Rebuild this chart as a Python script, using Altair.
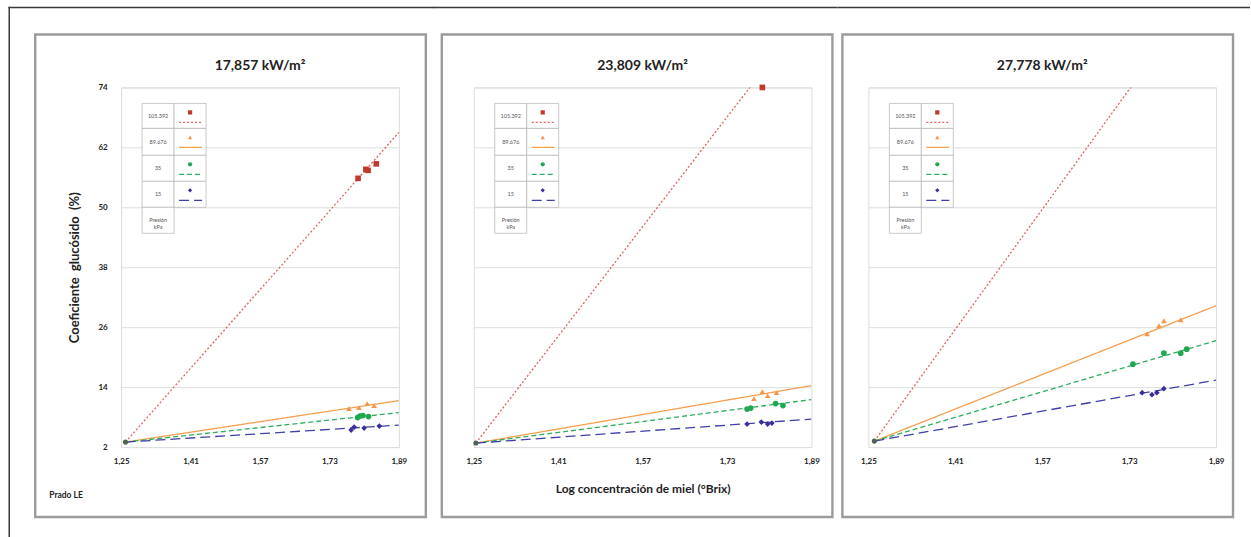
import altair as alt
import pandas as pd

# ---- data -----------------------------------------------------------------
SERIES = ["105.392", "89.676", "35", "15"]          # presión, kPa
X_TICKS = [1.25, 1.41, 1.57, 1.73, 1.89]
Y_TICKS = [2, 14, 26, 38, 50, 62, 74]
TITLES = ["17,857 kW/m²", "23,809 kW/m²", "27,778 kW/m²"]

# common starting point of every series (one per panel)
ORIGIN_X = [1.260, 1.254, 1.261]
ORIGIN_Y = [3.0, 2.8, 3.2]

# panel 1 — 17,857 kW/m²
P1_X = {
    "105.392": [1.796, 1.814, 1.819, 1.838],
    "89.676": [1.775, 1.798, 1.817, 1.833],
    "35": [1.795, 1.800, 1.807, 1.820],
    "15": [1.780, 1.787, 1.810, 1.845],
}
P1_Y = {
    "105.392": [55.8, 57.6, 57.4, 58.7],
    "89.676": [9.7, 9.9, 10.7, 10.3],
    "35": [7.9, 8.2, 8.3, 8.1],
    "15": [5.4, 6.0, 5.8, 6.2],
}
P1_FIT_END = {"105.392": 65.0, "89.676": 11.3, "35": 8.9, "15": 6.4}

# panel 2 — 23,809 kW/m²
P2_X = {
    "105.392": [1.797],
    "89.676": [1.781, 1.797, 1.807, 1.824],
    "35": [1.768, 1.775, 1.822, 1.836],
    "15": [1.768, 1.795, 1.807, 1.815],
}
P2_Y = {
    "105.392": [74.0],
    "89.676": [11.7, 13.1, 12.3, 12.9],
    "35": [9.6, 9.8, 10.7, 10.3],
    "15": [6.6, 7.0, 6.6, 6.8],
}
P2_FIT_END = {"105.392": 90.0, "89.676": 14.3, "35": 11.5, "15": 7.6}

# panel 3 — 27,778 kW/m²
P3_X = {
    "105.392": [],
    "89.676": [1.763, 1.785, 1.794, 1.825],
    "35": [1.737, 1.794, 1.825, 1.836],
    "15": [1.754, 1.772, 1.781, 1.794],
}
P3_Y = {
    "105.392": [],
    "89.676": [24.7, 26.3, 27.3, 27.5],
    "35": [18.6, 20.8, 20.8, 21.6],
    "15": [12.9, 12.5, 12.9, 13.7],
}
P3_FIT_END = {"105.392": 97.6, "89.676": 30.3, "35": 23.3, "15": 15.4}

# ---- styling --------------------------------------------------------------
FONT = "Lato"
POINT_COLORS = ["#C0392B", "#F7964A", "#1FA84F", "#3A2E9A"]
LINE_COLORS = ["#E2625C", "#F5A04E", "#2DAE5F", "#3F3FA8"]
SHAPES = ["square", "triangle-up", "circle", "diamond"]
DASHES = [[2, 2], [1, 0], [5, 3], [10, 5]]

HEIGHT = 360
# width of plot area, panel frame (relative x), strip of the outer top border
GEOM = [
    dict(width=278, frame=(-86, 305), band=(-112.75, 313.5)),
    dict(width=338, frame=(-32, 359), band=(-40.5, 364)),
    dict(width=348, frame=(-26, 365), band=(-31, 382)),
]
FRAME_Y = (-53, 430)
OUTER_Y = (-80.75, -79.25)

LEG_COLS = (21, 53, 85)
LEG_ROWS = (16, 41, 68, 94, 120, 146)

ONE = pd.DataFrame({"k": [0]})


def points_frame(px, py):
    rows = []
    for s in SERIES:
        for x, y in zip(px[s], py[s]):
            rows.append({"series": s, "x": x, "y": y})
    return pd.DataFrame(rows)


def fit_frame(ends, ox, oy):
    rows = []
    for s in SERIES:
        rows.append({"series": s, "x": ox, "y": oy})
        rows.append({"series": s, "x": X_TICKS[-1], "y": ends[s]})
    return pd.DataFrame(rows)


def legend_layers():
    layers = []
    c0, c1, c2 = LEG_COLS
    cell = dict(fill="white", stroke="#b3b3b3", strokeWidth=0.7)
    for i, s in enumerate(SERIES):
        top, bot = LEG_ROWS[i], LEG_ROWS[i + 1]
        for a, b in ((c0, c1), (c1, c2)):
            layers.append(alt.Chart(ONE).mark_rect(**cell).encode(
                x=alt.value(a), x2=alt.value(b), y=alt.value(top), y2=alt.value(bot)))
        layers.append(alt.Chart(ONE).mark_text(
            font=FONT, fontSize=5.5, color="#555", align="center", baseline="middle"
        ).encode(x=alt.value((c0 + c1) / 2), y=alt.value((top + bot) / 2), text=alt.value(s)))
        layers.append(alt.Chart(ONE).mark_point(
            filled=True, shape=SHAPES[i], size=18, color=POINT_COLORS[i], opacity=1
        ).encode(x=alt.value((c1 + c2) / 2), y=alt.value(top + 9)))
        layers.append(alt.Chart(ONE).mark_rule(
            color=LINE_COLORS[i], strokeWidth=1.2, strokeDash=DASHES[i]
        ).encode(x=alt.value(c1 + 5), x2=alt.value(c2 - 4), y=alt.value(top + 19)))
    top, bot = LEG_ROWS[4], LEG_ROWS[5]
    layers.append(alt.Chart(ONE).mark_rect(**cell).encode(
        x=alt.value(c0), x2=alt.value(c1), y=alt.value(top), y2=alt.value(bot)))
    layers.append(alt.Chart(ONE).mark_text(
        font=FONT, fontSize=5.5, color="#555", align="center", baseline="middle", lineHeight=7
    ).encode(x=alt.value((c0 + c1) / 2), y=alt.value((top + bot) / 2),
             text=alt.value(["Presión", "kPa"])))
    return layers


def panel(idx, px, py, ends):
    g = GEOM[idx]
    w = g["width"]
    first = idx == 0
    middle = idx == 1

    x_enc = alt.X(
        "x:Q",
        scale=alt.Scale(domain=[X_TICKS[0], X_TICKS[-1]], nice=False, zero=False),
        axis=alt.Axis(
            values=X_TICKS,
            labelExpr="replace(format(datum.value, '.2f'), '.', ',')",
            grid=False, ticks=False, tickSize=0, domain=False, labelFlush=False,
            labelFont=FONT, labelFontSize=8, labelFontWeight="bold", labelColor="#222",
            labelPadding=10,
            title="Log concentración de miel (°Brix)" if middle else "",
            titleFont=FONT, titleFontSize=12, titleFontWeight="bold", titleColor="#222",
            titleX=w / 2, titleY=41, titleAlign="center", titleBaseline="middle",
        ),
    )
    y_axis = dict(
        values=Y_TICKS, grid=True, gridColor="#dedede", gridWidth=1,
        ticks=False, tickSize=0, domain=False,
    )
    if first:
        y_axis.update(
            format="d", labels=True, labelFlush=False, labelFont=FONT, labelFontSize=8,
            labelFontWeight="bold", labelColor="#222", labelPadding=14,
            title="Coeficiente\u00a0 glucósido\u00a0 (%)",
            titleFont=FONT, titleFontSize=13, titleFontWeight="bold", titleColor="#222",
            titleX=-47, titleY=HEIGHT / 2, titleAngle=270,
            titleAlign="center", titleBaseline="middle",
        )
    else:
        y_axis.update(labels=False, title="")
    y_enc = alt.Y("y:Q", scale=alt.Scale(domain=[Y_TICKS[0], Y_TICKS[-1]], nice=False, zero=False),
                  axis=alt.Axis(**y_axis))

    frame = alt.Chart(ONE).mark_rect(
        fillOpacity=0, stroke="#9b9b9b", strokeWidth=2.4
    ).encode(x=alt.value(g["frame"][0]), x2=alt.value(g["frame"][1]),
             y=alt.value(FRAME_Y[0]), y2=alt.value(FRAME_Y[1]))
    outer_top = alt.Chart(ONE).mark_rect(color="#3a3a3a").encode(
        x=alt.value(g["band"][0]), x2=alt.value(g["band"][1]),
        y=alt.value(OUTER_Y[0]), y2=alt.value(OUTER_Y[1]))

    fits = alt.Chart(fit_frame(ends, ORIGIN_X[idx], ORIGIN_Y[idx])).mark_line(
        clip=True, strokeWidth=1.3
    ).encode(
        x=x_enc, y=y_enc,
        color=alt.Color("series:N", scale=alt.Scale(domain=SERIES, range=LINE_COLORS), legend=None),
        strokeDash=alt.StrokeDash("series:N", scale=alt.Scale(domain=SERIES, range=DASHES), legend=None),
    )
    pts = alt.Chart(points_frame(px, py)).mark_point(filled=True, size=32, opacity=1).encode(
        x=x_enc, y=y_enc,
        fill=alt.Fill("series:N", scale=alt.Scale(domain=SERIES, range=POINT_COLORS), legend=None),
        shape=alt.Shape("series:N", scale=alt.Scale(domain=SERIES, range=SHAPES), legend=None),
    )
    origin = alt.Chart(pd.DataFrame({"x": [ORIGIN_X[idx]], "y": [ORIGIN_Y[idx]]})).mark_point(
        filled=True, shape="circle", size=26, color="#4f634f", opacity=1
    ).encode(x=x_enc, y=y_enc)

    title = alt.Chart(ONE).mark_text(
        font=FONT, fontSize=14, fontWeight="bold", color="#222", align="center", baseline="middle"
    ).encode(x=alt.value(w / 2), y=alt.value(-21), text=alt.value(TITLES[idx]))

    layers = [frame, outer_top, fits] + legend_layers() + [pts, origin, title]
    if first:
        outer_left = alt.Chart(ONE).mark_rect(color="#3a3a3a").encode(
            x=alt.value(g["band"][0]), x2=alt.value(g["band"][0] + 1.5),
            y=alt.value(OUTER_Y[0]), y2=alt.value(451))
        note = alt.Chart(ONE).mark_text(
            font=FONT, fontSize=8.5, fontWeight="bold", color="#222", align="left", baseline="middle"
        ).encode(x=alt.value(-72), y=alt.value(408), text=alt.value("Prado LE"))
        layers += [outer_left, note]
    return alt.layer(*layers).properties(width=w, height=HEIGHT)


chart = alt.hconcat(
    panel(0, P1_X, P1_Y, P1_FIT_END),
    panel(1, P2_X, P2_Y, P2_FIT_END),
    panel(2, P3_X, P3_Y, P3_FIT_END),
    spacing=-2,
).properties(
    padding={"left": 7.25, "top": 5.25, "right": 0, "bottom": 0},
).configure_view(stroke="#d2d2d2", strokeWidth=1).configure(font=FONT)

chart.save("out.html", embed_options={"renderer": "svg", "actions": False})
